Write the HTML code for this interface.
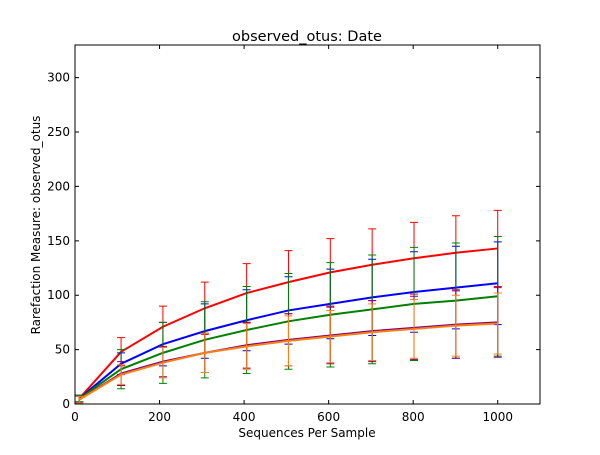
<!DOCTYPE html>
<html><head><meta charset="utf-8"><style>
html,body{margin:0;padding:0;background:#fff;}
svg text{font-family:"DejaVu Sans","Liberation Sans",sans-serif;}
</style></head><body>
<svg id="chart" width="600" height="450">
<rect width="600" height="450" fill="#fff"/>
<g id="marks"></g>
<g id="axes"></g>
</svg>
<script>
const xValues=[10,109,208,307,406,505,604,703,802,901,1000];
const seriesNames=["red","blue","green","purple","orange"];
const seriesColors=["#ff0000","#0000ff","#008000","#800080","#ff7f0e"];
const redValues=[5,48,71,88,102,112,121,128,134,139,143];
const redErr=[3,13,19,24,27,29,31,33,33,34,35];
const blueValues=[5,37,55,67,77,86,92,98,103,107,111];
const blueErr=[3,10,20,25,28,31,32,35,37,38,38];
const greenValues=[5,32,47,59,68,76,82,87,92,95,99];
const greenErr=[3,18,28,35,40,44,48,50,52,53,55];
const purpleValues=[4,28,39,47,54,59,63,67,70,73,75];
const purpleErr=[3,11,14,18,21,24,26,28,29,31,32];
const orangeValues=[4,27,38,47,53,58,62,66,69,72,74];
const orangeErr=[3,9,14,18,21,23,24,26,27,28,28];
const xTicks=[0,200,400,600,800,1000];
const yTicks=[0,50,100,150,200,250,300];

const L=75,R=540,T=45,B=404,XMAX=1100,YMAX=330;
const sx=v=>L+v/XMAX*(R-L);
const sy=v=>B-v/YMAX*(B-T);
const NS="http://www.w3.org/2000/svg";
function mk(tag,attrs,parent){const e=document.createElementNS(NS,tag);for(const k in attrs)e.setAttribute(k,attrs[k]);parent.appendChild(e);return e;}
const marks=document.getElementById('marks'),axes=document.getElementById('axes');
const allVals=[redValues,blueValues,greenValues,purpleValues,orangeValues];
const allErr=[redErr,blueErr,greenErr,purpleErr,orangeErr];
allVals.forEach((vals,s)=>{
  const c=seriesColors[s];
  const g=mk('g',{},marks);
  
  
  vals.forEach((v,i)=>{
    const x=sx(xValues[i]),y1=sy(v+allErr[s][i]),y2=sy(Math.max(0,v-allErr[s][i]));
    const eb=mk('path',{d:`M${x},${y1}V${y2}M${x-4},${y1}H${x+4}M${x-4},${y2}H${x+4}`,stroke:c,'stroke-width':1,fill:'none'},g);
    
    
  });
  const ln=mk('polyline',{points:vals.map((v,i)=>sx(xValues[i])+','+sy(v)).join(' '),stroke:c,'stroke-width':2,fill:'none'},g);
  
  
});
const frame=mk('rect',{x:L,y:T,width:R-L,height:B-T,fill:'none',stroke:'#000','stroke-width':1},axes);


xTicks.forEach(t=>{
  const x=sx(t);
  mk('path',{d:`M${x},${B}v-4M${x},${T}v4`,stroke:'#000'},axes);
  const tx=mk('text',{x:x,y:B+17,'text-anchor':'middle','font-size':12},axes);
  tx.textContent=t;
  
  
});
yTicks.forEach(t=>{
  const y=sy(t);
  mk('path',{d:`M${L},${y}h4M${R},${y}h-4`,stroke:'#000'},axes);
  const tx=mk('text',{x:L-5,y:y+4,'text-anchor':'end','font-size':12},axes);
  tx.textContent=t;
  
  
});
</script>
<svg width="600" height="450" style="position:absolute;left:0;top:0;pointer-events:none">
<text x="307" y="41" text-anchor="middle" font-size="14.5">observed_otus: Date</text>
<text x="307" y="437" text-anchor="middle" font-size="12">Sequences Per Sample</text>
<text x="40" y="225" text-anchor="middle" font-size="12" transform="rotate(-90 40 225)">Rarefaction Measure: observed_otus</text>
</svg>
</body></html>
